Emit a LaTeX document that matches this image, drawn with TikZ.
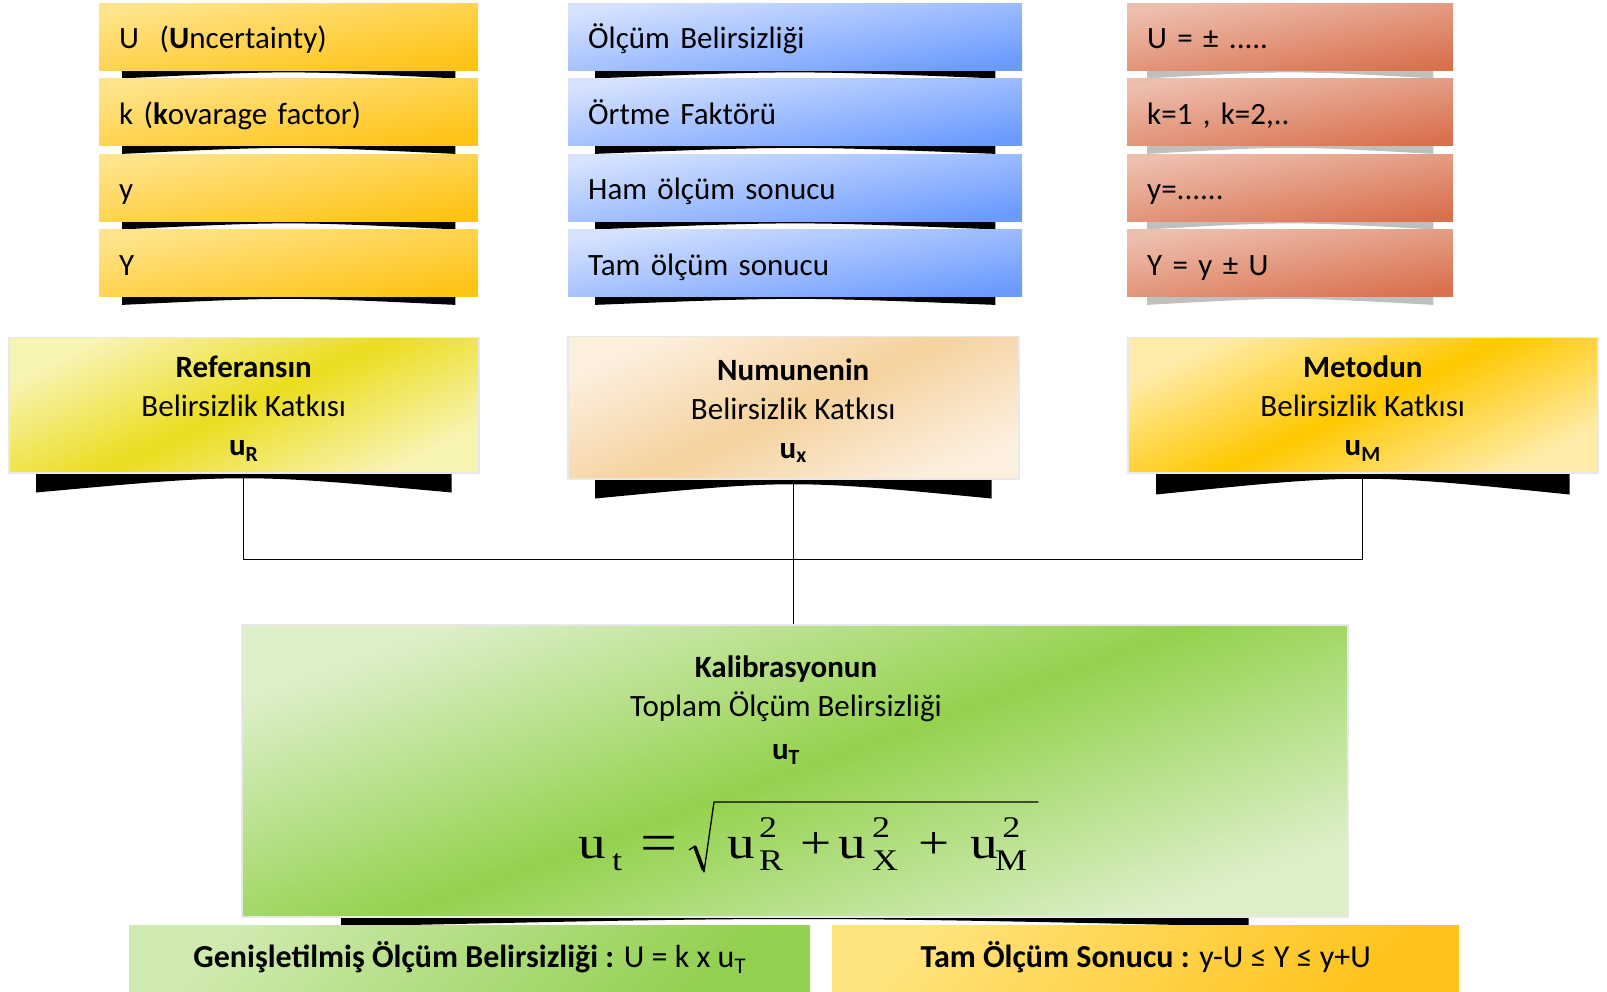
\documentclass[tikz,border=0pt]{standalone}
\usepackage{fontspec}
\usepackage{graphicx}
\setmainfont{Carlito}
\newfontfamily\tnr{Liberation Serif}
\usetikzlibrary{calc}
\pgfdeclarelayer{bg}
\pgfsetlayers{bg,main}
\definecolor{goldL}{HTML}{FFE48C}
\definecolor{goldD}{HTML}{FFC314}
\definecolor{blueL}{HTML}{D6E2FF}
\definecolor{blueD}{HTML}{6B9BFF}
\definecolor{salL}{HTML}{EDBFAE}
\definecolor{salD}{HTML}{D9714F}
\definecolor{yelL}{HTML}{F8F4B4}
\definecolor{yelM}{HTML}{EBDD1E}
\definecolor{peaL}{HTML}{FCEFDE}
\definecolor{peaM}{HTML}{F5D29E}
\definecolor{ambL}{HTML}{FFECAA}
\definecolor{ambM}{HTML}{FFC800}
\definecolor{grnL}{HTML}{DCEFC8}
\definecolor{grnM}{HTML}{94D24E}
\definecolor{bgrnL}{HTML}{CFEAAF}
\definecolor{bgrnD}{HTML}{92D050}
\definecolor{byelL}{HTML}{FFE37C}
\definecolor{byelD}{HTML}{FFC31C}
\definecolor{shgray}{HTML}{BFBFBF}
\definecolor{rim}{HTML}{E8E8E8}
\newcommand\fs{\fontsize{31}{38}\selectfont}
\newcommand\toprule{\rule{0pt}{28pt}}
% formula pieces (Times-like, text mode)
\newcommand\sbs[1]{\raisebox{-12pt}{\fontsize{30}{30}\selectfont #1}}
\newcommand\sps[1]{\raisebox{21pt}{\fontsize{30}{30}\selectfont #1}}
% curved shadow below a node: node, inset, depth at ends, control offset, colour
\newcommand\cshadow[5]{%
  \fill[#5] ([xshift=#2pt]#1.south west) -- ([xshift=-#2pt]#1.south east)
    -- ([xshift=-#2pt,yshift=-#3pt]#1.south east)
    .. controls ([yshift=-#4pt]#1.south) ..
    ([xshift=#2pt,yshift=-#3pt]#1.south west) -- cycle;}
\begin{document}
\begin{tikzpicture}[x=1pt,y=-1pt,
  every node/.style={font=\fs, text=black},
  topbox/.style={anchor=north west, minimum height=67pt, inner xsep=20pt,
    inner ysep=0pt, align=left, text height=28pt, text depth=4pt,
    top color=#1L, bottom color=#1D, shading angle=10},
  midbox/.style={anchor=north west, inner sep=0pt, align=center,
    font=\fontsize{31}{39}\selectfont, draw=rim, line width=1.5pt,
    top color=#1L, bottom color=#1L, middle color=#1M, shading angle=25},
  bottombox/.style={anchor=north west, minimum height=67pt, inner sep=0pt,
    text height=24pt, text depth=7pt, font=\fontsize{32}{38}\selectfont,
    top color=#1L, bottom color=#1D, shading angle=45},
  formula/.style={anchor=base west, inner sep=0pt, font=\tnr\fontsize{46}{50}\selectfont},
  conn/.style={draw=black, line width=1pt}]
\useasboundingbox (0,0) rectangle (1607,992);

% left column
\node[topbox=gold, text width=339pt] (l1) at (99,3) {U\ \ (\textbf{U}ncertainty)};
\node[topbox=gold, text width=339pt] (l2) at (99,78.5) {k (\textbf{k}ovarage factor)};
\node[topbox=gold, text width=339pt] (l3) at (99,154) {y};
\node[topbox=gold, text width=339pt] (l4) at (99,229.5) {Y};
% middle column
\node[topbox=blue, text width=414pt] (m1) at (568,3) {Ölçüm Belirsizliği};
\node[topbox=blue, text width=414pt] (m2) at (568,78.5) {Örtme Faktörü};
\node[topbox=blue, text width=414pt] (m3) at (568,154) {Ham ölçüm sonucu};
\node[topbox=blue, text width=414pt] (m4) at (568,229.5) {Tam ölçüm sonucu};
% right column
\node[topbox=sal, text width=286pt] (r1) at (1127,3) {U = ± .....};
\node[topbox=sal, text width=286pt] (r2) at (1127,78.5) {k=1 , k=2,..};
\node[topbox=sal, text width=286pt] (r3) at (1127,154) {y=......};
\node[topbox=sal, text width=286pt] (r4) at (1127,229.5) {Y = y ± U};

% contribution boxes
\node[midbox=yel, minimum width=470pt, minimum height=135pt] (ref) at (8,337)
  {\toprule\textbf{Referansın}\\Belirsizlik Katkısı\\\textbf{u\textsubscript{R}}};
\node[midbox=pea, minimum width=451pt, minimum height=142pt] (num) at (567,336)
  {\toprule\textbf{Numunenin}\\Belirsizlik Katkısı\\\textbf{u\textsubscript{x}}};
\node[midbox=amb, minimum width=470pt, minimum height=135pt] (met) at (1127,337)
  {\toprule\textbf{Metodun}\\Belirsizlik Katkısı\\\textbf{u\textsubscript{M}}};

% total box
\node[midbox=grn, shading angle=20, minimum width=1106pt, minimum height=292pt] (kal) at (241,624) {};
\node[align=center, inner sep=0pt, font=\fontsize{31}{39}\selectfont] (kalt) at (786,710)
  {\textbf{Kalibrasyonun}\\Toplam Ölçüm Belirsizliği\\[4pt]\textbf{u\textsubscript{T}}};
% formula: left side, radicand, radical sign
\node[formula] (frmL) at (578,858)
  {\scalebox{1.2}[1]{u\kern5.3pt\sbs{t}\kern15pt\raisebox{-3pt}{\fontsize{55}{55}\selectfont =}}};
\node[formula] (frmR) at (727,858)
  {\scalebox{1.2}[1]{u\kern3.7pt\rlap{\sps{2}}\sbs{R}\kern14.5pt+\kern5.3pt
   u\kern5.3pt\rlap{\sps{2}}\sbs{X}\kern17pt+\kern17pt
   u\kern-2pt\rlap{\kern6pt\sps{2}}\sbs{M}}};
\draw[line width=1.3pt, line join=round]
  ([shift={(-38,-8)}]frmR.base west) -- ([shift={(-32,-12)}]frmR.base west)
  -- ([shift={(-23,14)}]frmR.base west) -- ([shift={(-13,-56)}]frmR.base west)
  -- ([shift={(11,-56)}]frmR.base east);
\draw[line width=3.5pt]
  ([shift={(-32,-11)}]frmR.base west) -- ([shift={(-23.5,12)}]frmR.base west);

% bottom boxes
\node[bottombox=bgrn, minimum width=681pt] (gen) at (129,925)
  {\textbf{Genişletilmiş Ölçüm Belirsizliği :} U = k x u\textsubscript{T}};
\node[bottombox=byel, minimum width=627pt] (tam) at (832,925)
  {\textbf{Tam Ölçüm Sonucu :} y-U ≤ Y ≤ y+U};

% shadows
\begin{pgfonlayer}{bg}
  \foreach \n in {l1,l2,l3,l4} {\cshadow{\n}{23}{8}{0}{black}}
  \foreach \n in {m1,m2,m3,m4} {\cshadow{\n}{27}{8}{0}{black}}
  \foreach \n in {r1,r2,r3,r4} {\cshadow{\n}{20}{8}{0}{shgray}}
  \cshadow{ref}{28}{19}{0}{black}
  \cshadow{num}{28}{19}{0}{black}
  \cshadow{met}{29}{21}{0}{black}
  \cshadow{kal}{100}{9}{-1}{black}
\end{pgfonlayer}

% connectors
\coordinate (bus) at (793,559);
\draw[conn] (ref.south) -- (ref.south |- bus) -- (met.south |- bus) -- (met.south);
\draw[conn] (num.south) -- (num.south |- kal.north);
\end{tikzpicture}
\end{document}
